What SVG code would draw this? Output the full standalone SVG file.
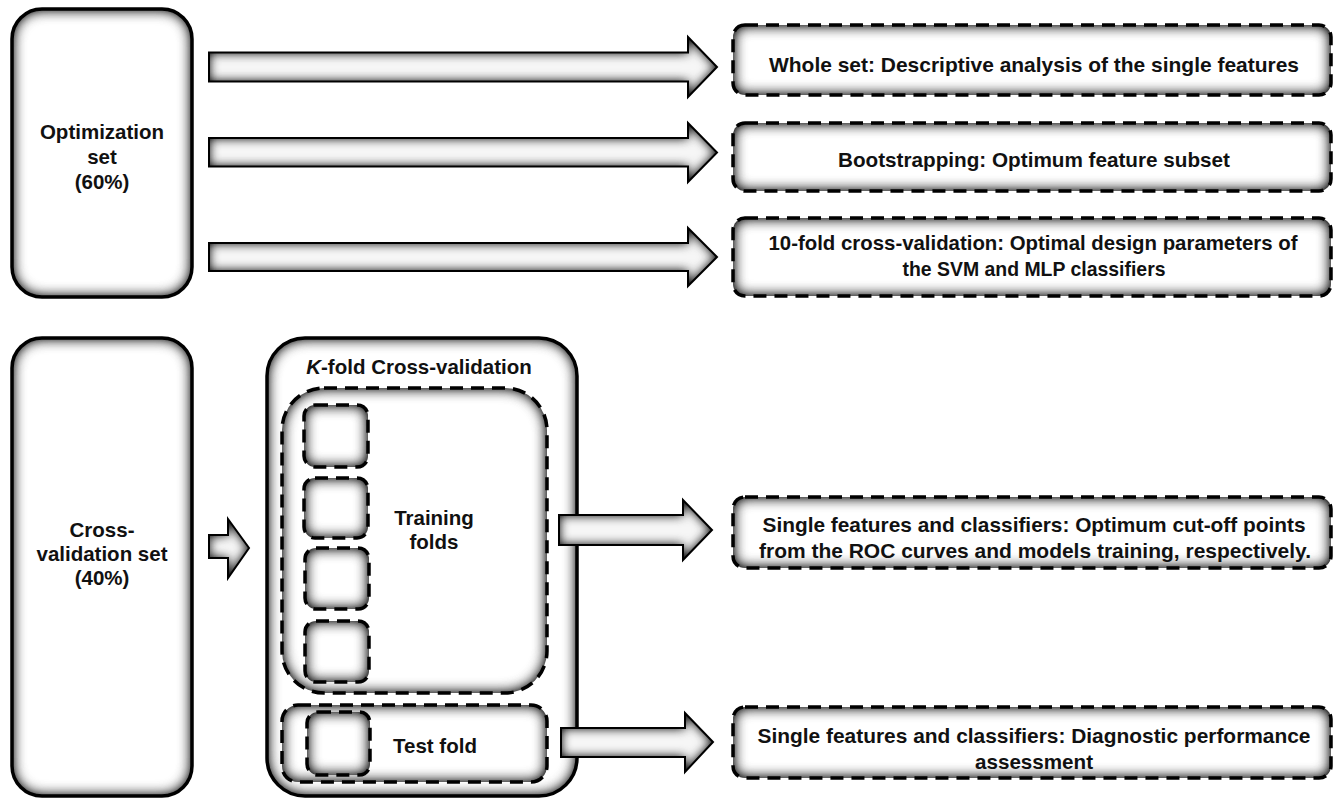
<svg xmlns="http://www.w3.org/2000/svg" width="1338" height="799" viewBox="0 0 1338 799">
<defs>
<filter id="ig" x="-25%" y="-25%" width="150%" height="150%" color-interpolation-filters="sRGB">
<feFlood flood-color="#202020" result="f"/>
<feComposite in="f" in2="SourceAlpha" operator="out" result="o"/>
<feGaussianBlur in="o" stdDeviation="7" result="b"/>
<feComponentTransfer in="b" result="b2"><feFuncA type="linear" slope="1.5"/></feComponentTransfer>
<feComposite in="b2" in2="SourceAlpha" operator="in" result="s"/>
<feMerge><feMergeNode in="SourceGraphic"/><feMergeNode in="s"/></feMerge>
</filter>
<filter id="ia" x="-20%" y="-40%" width="140%" height="180%" color-interpolation-filters="sRGB">
<feFlood flood-color="#202020" result="f"/>
<feComposite in="f" in2="SourceAlpha" operator="out" result="o"/>
<feGaussianBlur in="o" stdDeviation="5.5" result="b"/>
<feComponentTransfer in="b" result="b2"><feFuncA type="linear" slope="1.3"/></feComponentTransfer>
<feComposite in="b2" in2="SourceAlpha" operator="in" result="s"/>
<feMerge><feMergeNode in="SourceGraphic"/><feMergeNode in="s"/></feMerge>
</filter>
</defs>
<style>
.fill{fill:#fff;stroke:none;filter:url(#ig)}
.solid{fill:none;stroke:#000;stroke-width:3.5}
.dash{fill:none;stroke:#000;stroke-width:3.5;stroke-dasharray:13 8}
.arrow{fill:#f6f6f6;stroke:none;filter:url(#ia)}
.aline{fill:none;stroke:#000;stroke-width:2;stroke-linejoin:miter}
.t{font-family:"Liberation Sans",Arial,sans-serif;font-weight:bold;font-size:20.5px;fill:#111;text-anchor:middle}
.c{font-family:"Liberation Sans",Arial,sans-serif;font-weight:bold;font-size:21px;fill:#111;text-anchor:middle}
</style>
<rect width="1338" height="799" fill="#fff"/>

<g id="opt-set">
<rect class="fill" x="12" y="9" width="180" height="288" rx="30"/>
<rect class="solid" x="12" y="9" width="180" height="288" rx="30"/>
<text class="t" x="102" y="139">Optimization</text>
<text class="t" x="102" y="164">set</text>
<text class="t" x="102" y="189">(60%)</text>
</g>

<g id="cv-set">
<rect class="fill" x="12" y="338" width="180" height="458" rx="30"/>
<rect class="solid" x="12" y="338" width="180" height="458" rx="30"/>
<text class="t" x="102" y="537">Cross-</text>
<text class="t" x="102" y="561">validation set</text>
<text class="t" x="102" y="585">(40%)</text>
</g>

<g id="kfold">
<rect class="fill" x="267" y="338" width="310" height="458" rx="38"/>
<rect class="solid" x="267" y="338" width="310" height="458" rx="38"/>
<text class="t" x="419" y="374"><tspan font-style="italic">K</tspan>-fold Cross-validation</text>
</g>

<g id="training">
<rect class="fill" x="282" y="388" width="265" height="305" rx="42"/>
<rect class="dash" x="282" y="388" width="265" height="305" rx="42"/>
<rect class="fill" x="304" y="405" width="64" height="62" rx="11"/>
<rect class="dash" x="304" y="405" width="64" height="62" rx="11"/>
<rect class="fill" x="304" y="478" width="64" height="60" rx="11"/>
<rect class="dash" x="304" y="478" width="64" height="60" rx="11"/>
<rect class="fill" x="305" y="548" width="64" height="61" rx="11"/>
<rect class="dash" x="305" y="548" width="64" height="61" rx="11"/>
<rect class="fill" x="305" y="621" width="64" height="61" rx="11"/>
<rect class="dash" x="305" y="621" width="64" height="61" rx="11"/>
<text class="t" x="434" y="525">Training</text>
<text class="t" x="434" y="549">folds</text>
</g>

<g id="test">
<rect class="fill" x="282" y="705" width="265" height="77" rx="16"/>
<rect class="dash" x="282" y="705" width="265" height="77" rx="16"/>
<rect class="fill" x="307" y="712" width="63" height="63" rx="11"/>
<rect class="dash" x="307" y="712" width="63" height="63" rx="11"/>
<text class="t" x="435" y="753">Test fold</text>
</g>

<g id="out1">
<rect class="fill" x="733" y="25" width="598" height="70" rx="12"/>
<rect class="dash" x="733" y="25" width="598" height="70" rx="12"/>
<text class="c" x="1034" y="72" textLength="530" lengthAdjust="spacingAndGlyphs">Whole set: Descriptive analysis of the single features</text>
</g>

<g id="out2">
<rect class="fill" x="733" y="123" width="598" height="68" rx="12"/>
<rect class="dash" x="733" y="123" width="598" height="68" rx="12"/>
<text class="c" x="1034" y="167" textLength="392" lengthAdjust="spacingAndGlyphs">Bootstrapping:  Optimum feature subset</text>
</g>

<g id="out3">
<rect class="fill" x="733" y="218" width="598" height="78" rx="12"/>
<rect class="dash" x="733" y="218" width="598" height="78" rx="12"/>
<text class="c" x="1033" y="250" textLength="529" lengthAdjust="spacingAndGlyphs">10-fold cross-validation: Optimal design parameters of</text>
<text class="c" x="1034" y="276" textLength="263" lengthAdjust="spacingAndGlyphs">the SVM and MLP classifiers</text>
</g>

<g id="out4">
<rect class="fill" x="733" y="497" width="598" height="71" rx="12"/>
<rect class="dash" x="733" y="497" width="598" height="71" rx="12"/>
<text class="c" x="1034" y="532" textLength="543" lengthAdjust="spacingAndGlyphs">Single features and classifiers: Optimum cut-off points</text>
<text class="c" x="1035" y="558" textLength="552" lengthAdjust="spacingAndGlyphs">from the ROC curves and models training, respectively.</text>
</g>

<g id="out5">
<rect class="fill" x="733" y="707" width="598" height="71" rx="12"/>
<rect class="dash" x="733" y="707" width="598" height="71" rx="12"/>
<text class="c" x="1034" y="743" textLength="553" lengthAdjust="spacingAndGlyphs">Single features and classifiers: Diagnostic performance</text>
<text class="c" x="1034" y="769" textLength="118" lengthAdjust="spacingAndGlyphs">assessment</text>
</g>

<g id="connectors">
<path class="arrow" d="M209,52.5 H688 V37 L717,67 L688,97 V81.5 H209 Z"/>
<path class="aline" d="M209,52.5 H688 V37 L717,67 L688,97 V81.5 H209 Z"/>
<path class="arrow" d="M209,138 H688 V123 L717,152.5 L688,182 V166.5 H209 Z"/>
<path class="aline" d="M209,138 H688 V123 L717,152.5 L688,182 V166.5 H209 Z"/>
<path class="arrow" d="M209,243 H688 V228 L717,257 L688,286 V271 H209 Z"/>
<path class="aline" d="M209,243 H688 V228 L717,257 L688,286 V271 H209 Z"/>
<path class="arrow" d="M209,535 H228 V519 L249,548 L228,578 V558 H209 Z"/>
<path class="aline" d="M209,535 H228 V519 L249,548 L228,578 V558 H209 Z"/>
<path class="arrow" d="M559,515 H683 V500 L712,530 L683,560 V545 H559 Z"/>
<path class="aline" d="M559,515 H683 V500 L712,530 L683,560 V545 H559 Z"/>
<path class="arrow" d="M561,728 H685 V713 L713,742 L685,772 V757 H561 Z"/>
<path class="aline" d="M561,728 H685 V713 L713,742 L685,772 V757 H561 Z"/>
</g>
</svg>
